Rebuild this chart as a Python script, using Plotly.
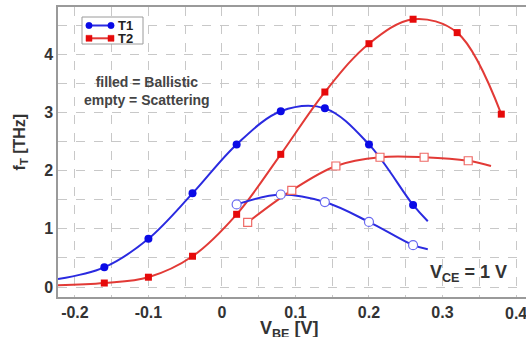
import plotly.graph_objects as go

# ---- data ----
vbe_b = [-0.16, -0.10, -0.04, 0.02, 0.08, 0.14, 0.20, 0.26]
t1_ballistic = [0.34, 0.83, 1.61, 2.45, 3.02, 3.07, 2.45, 1.41]
t1_b_curve_x = [-0.223] + vbe_b + [0.28]
t1_b_curve_y = [0.14] + t1_ballistic + [1.13]

vbe_b2 = [-0.16, -0.10, -0.04, 0.02, 0.08, 0.14, 0.20, 0.26, 0.32, 0.38]
t2_ballistic = [0.07, 0.17, 0.53, 1.25, 2.28, 3.35, 4.18, 4.60, 4.37, 2.97]
t2_b_curve_x = [-0.223] + vbe_b2
t2_b_curve_y = [0.03] + t2_ballistic

vbe_s1 = [0.02, 0.08, 0.14, 0.20, 0.26]
t1_scatter = [1.42, 1.59, 1.46, 1.12, 0.72]
t1_s_curve_x = vbe_s1 + [0.28]
t1_s_curve_y = t1_scatter + [0.65]

vbe_s2 = [0.035, 0.095, 0.155, 0.215, 0.275, 0.335]
t2_scatter = [1.11, 1.66, 2.08, 2.23, 2.23, 2.17]
t2_s_curve_x = vbe_s2 + [0.366]
t2_s_curve_y = t2_scatter + [2.08]

x_ticks = [-0.2, -0.1, 0, 0.1, 0.2, 0.3]
x_tick_text = ["-0.2", "-0.1", "0", "0.1", "0.2", "0.3"]
x_edge_tick = 0.4
y_ticks = [0, 1, 2, 3, 4]
series_names = ["T1", "T2"]

BLUE = "#2a2ae0"
RED = "#e23a36"
BLUE_M = "#0a0ae6"
RED_M = "#e60a0a"

# plot-area geometry in pixels (for placing legend decorations)
W, H = 526, 337
L, R, T, B = 58, 0, 7, 40
PW, PH = W - L - R, H - T - B


def px(x):
    return (x - L) / PW


def py(y):
    return (H - B - y) / PH


fig = go.Figure()


def curve(x, y, color):
    fig.add_trace(go.Scatter(x=x, y=y, mode="lines", showlegend=False,
                             line=dict(color=color, width=2, shape="spline", smoothing=1.0),
                             hoverinfo="skip"))


curve(t1_b_curve_x, t1_b_curve_y, BLUE)
curve(t2_b_curve_x, t2_b_curve_y, RED)
curve(t1_s_curve_x, t1_s_curve_y, BLUE)
curve(t2_s_curve_x, t2_s_curve_y, RED)

fig.add_trace(go.Scatter(x=vbe_b, y=t1_ballistic, mode="markers", showlegend=False,
                         marker=dict(symbol="circle", size=8, color=BLUE_M)))
fig.add_trace(go.Scatter(x=vbe_b2, y=t2_ballistic, mode="markers", showlegend=False,
                         marker=dict(symbol="square", size=7, color=RED_M)))
fig.add_trace(go.Scatter(x=vbe_s1, y=t1_scatter, mode="markers", showlegend=False,
                         marker=dict(symbol="circle", size=9, color="white",
                                     line=dict(color="#6a6af0", width=1.2))))
fig.add_trace(go.Scatter(x=vbe_s2, y=t2_scatter, mode="markers", showlegend=False,
                         marker=dict(symbol="square", size=8, color="white",
                                     line=dict(color="#ee6a66", width=1.2))))

grid = dict(showgrid=True, gridcolor="#c8c8c8", griddash="dash", gridwidth=1)
tickfont = dict(family="Liberation Sans", size=16, color="#333333", weight="bold")

fig.update_layout(
    width=W, height=H,
    margin=dict(l=L, r=R, t=T, b=B),
    plot_bgcolor="white", paper_bgcolor="white",
    font=dict(family="Liberation Sans", color="#333333"),
    xaxis=dict(range=[-0.223, 0.4136], tickvals=x_ticks, ticktext=x_tick_text,
               showline=True, linecolor="#9a9a9a", linewidth=1.5, mirror=True,
               zeroline=False, ticks="", automargin=False, tickfont=tickfont,
               minor=dict(dtick=0.05, **grid), **grid),
    yaxis=dict(range=[-0.17, 4.81], tickvals=y_ticks,
               showline=True, linecolor="#9a9a9a", linewidth=1.5, mirror=False,
               zeroline=False, ticks="", automargin=False, tickfont=tickfont,
               minor=dict(dtick=0.5, **grid), **grid),
    showlegend=False,
)

# edge tick label (partly cut off at the right edge, like the reference)
fig.add_annotation(xref="x", yref="paper", x=x_edge_tick, y=-0.02, xanchor="center",
                   yanchor="top", showarrow=False, text="0.4",
                   font=tickfont)

# ---- manual legend box ----
fig.add_shape(type="rect", xref="paper", yref="paper",
              x0=px(82), x1=px(143), y0=py(44), y1=py(17),
              line=dict(color="#9a9a9a", width=1), fillcolor="white", layer="above")
leg_rows = [(25.5, BLUE, BLUE_M, "circle"), (38.3, RED, RED_M, "square")]
for name, (ry, lc, mc, sym) in zip(series_names, leg_rows):
    fig.add_shape(type="line", xref="paper", yref="paper",
                  x0=px(89), x1=px(111), y0=py(ry), y1=py(ry),
                  line=dict(color=lc, width=2), layer="above")
    for cx in (89, 111):
        if sym == "circle":
            fig.add_shape(type="circle", xref="paper", yref="paper",
                          x0=px(cx - 3.2), x1=px(cx + 3.2), y0=py(ry + 3.2), y1=py(ry - 3.2),
                          line=dict(color=mc, width=0.5), fillcolor=mc, layer="above")
        else:
            fig.add_shape(type="rect", xref="paper", yref="paper",
                          x0=px(cx - 3), x1=px(cx + 3), y0=py(ry + 3), y1=py(ry - 3),
                          line=dict(color=mc, width=0.5), fillcolor=mc, layer="above")
    fig.add_annotation(xref="paper", yref="paper", x=px(117), y=py(ry), xanchor="left",
                       yanchor="middle", showarrow=False, text="<b>%s</b>" % name,
                       borderpad=0,
                       font=dict(family="Liberation Sans", size=13, color="#222222"))

fig.add_annotation(xref="paper", yref="paper", x=0.19, y=0.71, xanchor="center",
                   yanchor="middle", showarrow=False,
                   text="<b>filled = Ballistic<br>empty = Scattering</b>",
                   font=dict(family="Liberation Sans", size=14, color="#444444"),
                   align="center")
fig.add_annotation(xref="paper", yref="paper", x=0.79, y=0.035, xanchor="left",
                   yanchor="bottom", showarrow=False,
                   text="<b>V<sub>CE</sub> = 1 V</b>",
                   font=dict(family="Liberation Sans", size=18, color="#333333"))
fig.add_annotation(xref="paper", yref="paper", x=0.495, y=-0.065, xanchor="center",
                   yanchor="top", showarrow=False, text="<b>V<sub>BE</sub> [V]</b>",
                   font=dict(family="Liberation Sans", size=18, color="#333333"))
fig.add_annotation(xref="paper", yref="paper", x=-0.08, y=0.535, xanchor="center",
                   yanchor="middle", showarrow=False, textangle=-90,
                   text="<b>f<sub>T</sub> [THz]</b>",
                   font=dict(family="Liberation Sans", size=16, color="#333333"))

fig.write_html("out.html")
